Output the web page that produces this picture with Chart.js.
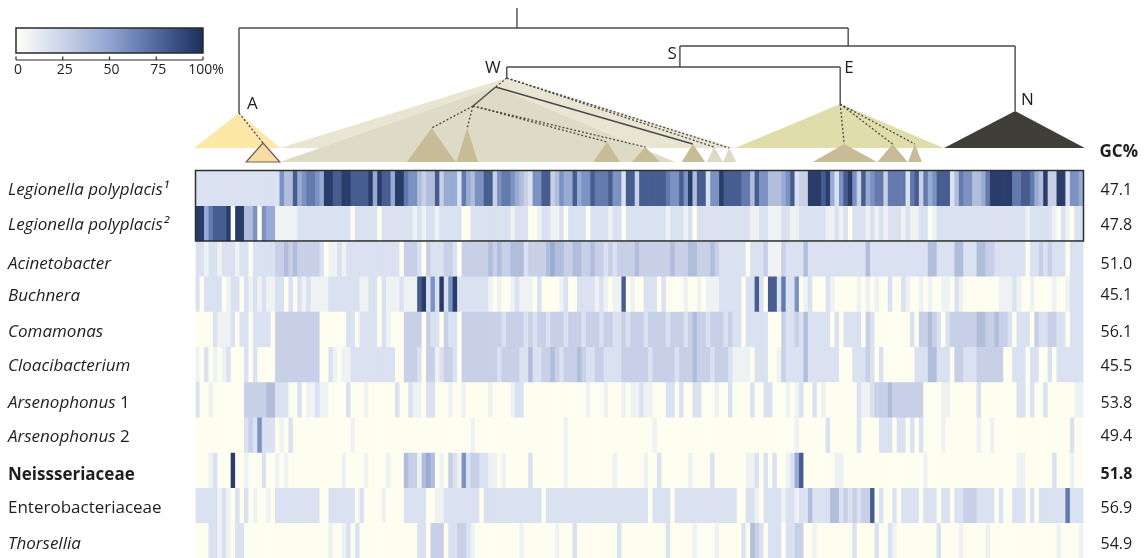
<!DOCTYPE html>
<html>
<head>
<meta charset="utf-8">
<script src="https://cdn.jsdelivr.net/npm/chart.js@4.4.1/dist/chart.umd.min.js"></script>
<style>
html, body { margin: 0; padding: 0; background: #fff; }
#wrap { width: 1148px; height: 558px; }
</style>
</head>
<body>
<div id="wrap"><canvas id="myChart" width="1148" height="558"></canvas></div>
<script>
// ---- data ----
function z(n) { return '0'.repeat(n); }   // run of empty (0%) columns

var taxa = ['Legionella polyplacis¹', 'Legionella polyplacis²', 'Acinetobacter', 'Buchnera',
    'Comamonas', 'Cloacibacterium', 'Arsenophonus 1', 'Arsenophonus 2',
    'Neissseriaceae', 'Enterobacteriaceae', 'Thorsellia'];
var gcContent = ['47.1', '47.8', '51.0', '45.1', '56.1', '45.5', '53.8', '49.4', '51.8', '56.9', '54.9'];

// coverage per gene column, one digit per column (0 = 0% ... 9 = 100%)
var legionella1 = ["2222222222222222222", "64485677659988",
    "99888", "89598", "85997", "66434", "48355", "52754", "668",
    "83677", "65432", "66883", "46558", "56687", "77866", "28",
    "83888", "88876", "68694", "88266", "98888", "77486", "644",
    "45682", "33999", "89526", "89638", "56773", "77772", "78",
    "37568", "88247", "66445", "79999", "97788", "75493", "39926", "65"].join('');
var legionella2 = ["99578", "88909", "94460", "65511", "11122", "22222", "222",
    "22022", "22202", "22222", "21212", "21222", "22002", "222",
    "22222", "12220", "01221", "12022", "22022", "22122", "02",
    "22222222", "1", "222", "1", "2", "0", "222222222222", "11", "22", "11",
    "12211", "22222", "21121", "20222", "12121", "22212", "11",
    "22012", "2222222222222222222", "1", "22222", "1", "0", "2", "1", "0", "22"].join('');
var acinetobacter = ["22122", "12221", "22022", "22233", "43433", "33320", "112",
    "1", "222222222222", "0", "333", "2", "0", "3", "222", "33", "2", "0", "333333",
    "43433", "44423", "33345", "44334", "43343", "32323", "33",
    "34333", "33334", "33344", "33343", "22222", "20222", "311",
    "13222", "24", "2222222222222", "4", "22222222222",
    "22442", "22244", "22244", "33222", "22220", "22323", "22202", "22"].join('');
var buchnera = ["20222", "20122", "02121", "21122", "02021", "21111", "222",
    "22221", "12202", "11121", "11892", "62926", "92222", "222",
    "10100", "12111", "02000", "01200", "22221", "21011", "80",
    "10022", "20200", "00100", "10111", "22222", "02282", "088",
    "27226", "01200", "02100", "00010", "10100", "20021", "00",
    "10100", "11021", "00000", "00011", "12100", "10000", "10012", "22"].join('');
var comamonas = ["00002", "11120", "22022", "22033", "33333", "33300", "000",
    "02202", "22202", "10003", "33303", "22032", "20333", "333",
    "33323", "33323", "23323", "33233", "32333", "23322", "32",
    "33323333233323", "4", "332333232", "202222200",
    "03223", "24222", "22020", "22220", "32000", "00000", "20",
    "33432", "02333", "33344", "33433", "20222", "03223", "32202", "22"].join('');
var cloacibacterium = ["10201", "01200", "02020", "00033", "33333", "33300", "210",
    "11", "2222222222", "00", "333", "2", "0", "33", "1", "2", "33", "2", "0", "333333",
    "33233", "33224", "22334", "32333", "43223", "32222", "33",
    "33332333332333", "4", "3332333", "21111022200",
    "13222", "24", "2222222", "000", "222", "3", "2", "0", "2", z(7), "2",
    "22442", "22033", "22233", "33330", "02220", "22002", "02222", "22"].join('');
var arsenophonus1 = ["20010", z(6), "33333", "44", "222", "00", "2", "0", "11", "2", "11", "000",
    "02000", "10000", "00200", "21102", "20001", "00100", "000",
    "10000", "12200", z(12), "10001", "00010",
    "11211", "00022", "02002", "20001", "00200", "00200", "220",
    "00101", "20020", "1", z(7), "21123", "334", "3", "33333",
    "3", "0000", "11", z(6), "2", z(8), "22", "0", "2", "00", "2", z(6), "11"].join('');
var arsenophonus2 = [z(11), "23262220102", z(11),
    "001", z(26), "1", "000",
    z(17), "1", z(14),
    z(5), "1", z(27),
    "0000", "1", z(6), "2", z(6), "2", "0000", "222", "0", "22", "0", "2", "0",
    "2", "0000", "1", z(7), "1", "00", "1", z(17), "2", "00"].join('');
var neisseriaceae = ["00012", "00090", "01000", "20010", "10000", "00000", "000",
    "10000", "10000", "10004", "33145", "40103", "21623", "322",
    "11010", "00002", z(7), "1", z(10), "1", "000",
    "000", "1", "00", "2", z(6), "1", "0000", "2", z(7), "1", "1", "2", "0", "2", "0", "2",
    "00", "1", "2", "5", "8", z(7), "11", z(17),
    "0", "1", z(20), "11", z(6), "2", "000", "1", "00"].join('');
var enterobacteriaceae = ["22222", "12102", "02010", "010", "2222222222", "00222",
    "22202", "00001", "0000", "22222", "0011", "22222222", "02",
    "222222222222", "0", "2222222222222222222",
    "2222", "0", "2222", "0", "22222222222222", "00", "22", "1", "0", "222",
    "21221", "22422", "22442", "32323", "38020", "02022", "22",
    "02220", "22022", "33322", "22020", "02220", "20222", "22272", "22"].join('');
var thorsellia = ["00022", "12102", "20000", z(15), "100",
    "1202", z(13), "22", "0", "333", "0", "22", "33", "21", "000",
    z(7), "1", z(7), "1", "000", "2", z(9), "2", "00",
    z(8), "2", z(5), "1", "0000", "1", z(5), "2", "0", "4", "3", "2", "0", "2", "2",
    "202233", "001", z(8), "2", "0000", "2", "00", "21", z(5),
    "0000", "2", "0000", "1", z(5), "1", z(15), "1", "0000", "1"].join('');

var coverageRows = [legionella1, legionella2, acinetobacter, buchnera, comamonas, cloacibacterium,
    arsenophonus1, arsenophonus2, neisseriaceae, enterobacteriaceae, thorsellia];
var nCols = 200;
var geneLabels = [];
for (var i = 0; i < nCols; i++) geneLabels.push('g' + (i + 1));

// percent for each coverage digit
var levelPercent = [0, 8, 17, 27, 37, 47, 58, 68, 80, 94];
var legendTicks = [0, 25, 50, 75, 100];

// clades: column span of the base, apex column, apex height above the base line
var clades = [
    {name: 'W', from: 19, to: 121.5, apex: 70.1, h: 70, color: '#e8e6d2'},
    {name: 'A', from: -0.3, to: 19, apex: 9.8, h: 35, color: '#fde8a8'},
    {name: 'E', from: 121.5, to: 168.5, apex: 145.2, h: 44, color: '#e1ddab'},
    {name: 'N', from: 168.6, to: 200.3, apex: 184.6, h: 37, color: '#403f37'}
];
var subclades = [
    {from: 11.4, to: 19, apex: 15.2, h: 5, color: '#f7dca6', outline: true},
    {from: 47.6, to: 58.6, apex: 53.2, h: 20, color: '#c8bc97'},
    {from: 58.8, to: 63.6, apex: 61.2, h: 20, color: '#c8bc97'},
    {from: 89.6, to: 95.6, apex: 92.7, h: 6, color: '#c8bc97'},
    {from: 98.3, to: 104.6, apex: 101.3, h: 1, color: '#c8bc97'},
    {from: 109.5, to: 114.8, apex: 112, h: 4, color: '#c8bc97'},
    {from: 115.2, to: 118.8, apex: 116.8, h: 1, color: '#dcd9c6'},
    {from: 118.8, to: 121.8, apex: 120.2, h: 0, color: '#dcd9c6'},
    {from: 139, to: 153.5, apex: 146.1, h: 4, color: '#c8bc97'},
    {from: 153.6, to: 160.4, apex: 157, h: 4, color: '#c8bc97'},
    {from: 160.5, to: 163.6, apex: 162, h: 4, color: '#c8bc97'}
];
// tree branches as [column, height] points
var treeLines = [
    [[72.4, 140], [72.4, 120]],
    [[9.8, 120], [147, 120]], [[9.8, 120], [9.8, 35]], [[147, 120], [147, 102]],
    [[109.1, 102], [184.6, 102]], [[109.1, 102], [109.1, 81]], [[184.6, 102], [184.6, 37]],
    [[70.1, 81], [145.2, 81]], [[70.1, 81], [70.1, 70]], [[145.2, 81], [145.2, 44]],
    [[67.6, 61], [112, 4]], [[67.6, 61], [62.5, 42]]
];
var treeDotted = [
    [[9.8, 35], [15.2, 5]],
    [[70.1, 70], [67.6, 61]], [[70.1, 70], [120.2, 0]], [[70.1, 70], [116.8, 1]],
    [[62.5, 42], [53.2, 20]], [[62.5, 42], [61.2, 20]], [[62.5, 42], [92.7, 6]], [[62.5, 42], [101.3, 1]],
    [[145.2, 44], [146.1, 4]], [[145.2, 44], [157, 4]], [[145.2, 44], [162, 4]]
];
var nodeLabels = [
    {text: 'A', x: 9.8, h: 44, dx: 8, align: 'left'},
    {text: 'W', x: 70.1, h: 80, dx: -6, align: 'right'},
    {text: 'S', x: 109.1, h: 94, dx: -3, align: 'right'},
    {text: 'E', x: 145.2, h: 80, dx: 4, align: 'left'},
    {text: 'N', x: 184.6, h: 48, dx: 6, align: 'left'}
];

// ---- colour scale ----
var colorStops = [[0, '#fefef0'], [8, '#eff2f3'], [17, '#dae1f1'], [27, '#c7d0e6'], [37, '#b1bedb'],
    [50, '#91a5d1'], [62, '#7288ba'], [75, '#54699b'], [88, '#354a7c'], [100, '#1f2d58']];
function hexRgb(h) { return [parseInt(h.substr(1, 2), 16), parseInt(h.substr(3, 2), 16), parseInt(h.substr(5, 2), 16)]; }
function coverageColor(p) {
    for (var i = 1; i < colorStops.length; i++) {
        if (p <= colorStops[i][0]) {
            var a = colorStops[i - 1], b = colorStops[i];
            var t = (p - a[0]) / (b[0] - a[0]);
            var ca = hexRgb(a[1]), cb = hexRgb(b[1]);
            return 'rgb(' + ca.map(function (v, k) { return Math.round(v + (cb[k] - v) * t); }).join(',') + ')';
        }
    }
    return colorStops[colorStops.length - 1][1];
}

var datasets = coverageRows.map(function (row, r) {
    var vals = [], cols = [];
    for (var c = 0; c < nCols; c++) {
        var lvl = parseInt(row.charAt(c) || '0', 10);
        vals.push([r, r + 1]);
        cols.push(coverageColor(levelPercent[lvl]));
    }
    return {label: taxa[r], data: vals, backgroundColor: cols, borderWidth: 0};
});

var FONT = '"Open Sans", "DejaVu Sans", sans-serif';
var labelShift = [2, 2, 6, 2, 3, 2, 4, 2, 5, 3, 4];

var decorPlugin = {
    id: 'decor',
    beforeDraw: function (chart) {
        var ctx = chart.ctx;
        ctx.save();
        ctx.fillStyle = '#fff';
        ctx.fillRect(0, 0, chart.width, chart.height);
        ctx.restore();
    },
    afterDraw: function (chart) {
        var ctx = chart.ctx, xs = chart.scales.x, ys = chart.scales.y, area = chart.chartArea;
        function colX(c) { return xs.getPixelForValue(c - 0.5); }
        function hY(h) { return area.top - 22.5 - h; }
        ctx.save();

        // Legionella box
        ctx.strokeStyle = '#2e2e2e';
        ctx.lineWidth = 1.5;
        ctx.strokeRect(colX(0), ys.getPixelForValue(0), colX(nCols) - colX(0), ys.getPixelForValue(2) - ys.getPixelForValue(0));

        // clade triangles
        clades.forEach(function (cl) {
            ctx.fillStyle = cl.color;
            ctx.beginPath();
            ctx.moveTo(colX(cl.from), hY(0));
            ctx.lineTo(colX(cl.apex), hY(cl.h));
            ctx.lineTo(colX(cl.to), hY(0));
            ctx.closePath();
            ctx.fill();
            if (cl.name === 'W') {
                ctx.fillStyle = '#dddac5';
                ctx.beginPath();
                ctx.moveTo(colX(19), hY(-14));
                ctx.lineTo(colX(67.6), hY(61));
                ctx.lineTo(colX(108), hY(-14));
                ctx.closePath();
                ctx.fill();
            }
        });
        subclades.forEach(function (s) {
            ctx.fillStyle = s.color;
            ctx.beginPath();
            ctx.moveTo(colX(s.from), hY(-14));
            ctx.lineTo(colX(s.apex), hY(s.h));
            ctx.lineTo(colX(s.to), hY(-14));
            ctx.closePath();
            ctx.fill();
            if (s.outline) {
                ctx.strokeStyle = '#6b6256';
                ctx.lineWidth = 1.2;
                ctx.stroke();
            }
        });

        // branches
        ctx.strokeStyle = '#4a4a4a';
        ctx.lineWidth = 1.4;
        treeLines.forEach(function (l) {
            ctx.beginPath();
            ctx.moveTo(colX(l[0][0]), hY(l[0][1]));
            ctx.lineTo(colX(l[1][0]), hY(l[1][1]));
            ctx.stroke();
        });
        ctx.setLineDash([2, 2]);
        ctx.lineWidth = 1.3;
        treeDotted.forEach(function (l) {
            ctx.beginPath();
            ctx.moveTo(colX(l[0][0]), hY(l[0][1]));
            ctx.lineTo(colX(l[1][0]), hY(l[1][1]));
            ctx.stroke();
        });
        ctx.setLineDash([]);

        ctx.fillStyle = '#1e1e1e';
        ctx.font = '17px ' + FONT;
        ctx.textBaseline = 'middle';
        nodeLabels.forEach(function (n) {
            ctx.textAlign = n.align;
            ctx.fillText(n.text, colX(n.x) + n.dx, hY(n.h));
        });

        // row labels
        ctx.textAlign = 'left';
        taxa.forEach(function (name, r) {
            var y = (ys.getPixelForValue(r) + ys.getPixelForValue(r + 1)) / 2 + labelShift[r];
            var x = 8;
            var parts;
            if (r === 8) parts = [[name, 'bold ']];
            else if (r === 9) parts = [[name, '']];
            else if (r === 6 || r === 7) parts = [[name.split(' ')[0], 'italic '], [' ' + name.split(' ')[1], '']];
            else parts = [[name, 'italic ']];
            parts.forEach(function (p) {
                ctx.font = p[1] + '17px ' + FONT;
                ctx.fillText(p[0], x, y);
                x += ctx.measureText(p[0]).width;
            });
            ctx.font = (r === 8 ? 'bold ' : '') + '16px ' + FONT;
            ctx.fillText(gcContent[r], area.right + 17, y);
        });
        ctx.font = 'bold 17px ' + FONT;
        ctx.fillText('GC%', area.right + 16, hY(-4));

        // colour key
        var kx0 = 16, kx1 = 203, ky0 = 28, ky1 = 53;
        var g = ctx.createLinearGradient(kx0, 0, kx1, 0);
        colorStops.forEach(function (s) { g.addColorStop(s[0] / 100, s[1]); });
        ctx.fillStyle = g;
        ctx.fillRect(kx0, ky0, kx1 - kx0, ky1 - ky0);
        ctx.strokeStyle = '#2a2a2a';
        ctx.lineWidth = 1.5;
        ctx.strokeRect(kx0, ky0, kx1 - kx0, ky1 - ky0);
        ctx.lineWidth = 1.2;
        ctx.beginPath();
        ctx.moveTo(kx0, 60);
        ctx.lineTo(kx1, 60);
        legendTicks.forEach(function (t) {
            var tx = kx0 + (kx1 - kx0) * t / 100;
            ctx.moveTo(tx, 60);
            ctx.lineTo(tx, 56.5);
        });
        ctx.stroke();
        ctx.fillStyle = '#1e1e1e';
        ctx.font = '14px ' + FONT;
        ctx.textAlign = 'center';
        legendTicks.forEach(function (t) {
            var tx = kx0 + (kx1 - kx0) * t / 100;
            var txt = t === 100 ? t + '%' : String(t);
            ctx.fillText(txt, t === 100 ? tx + 3 : tx + 2, 70);
        });
        ctx.restore();
    }
};

var canvas = document.getElementById('myChart');
var myChart = new Chart(canvas.getContext('2d'), {
    type: 'bar',
    data: {labels: geneLabels, datasets: datasets},
    options: {
        responsive: false,
        animation: false,
        layout: {padding: {left: 195.5, right: 64.5, top: 170.5, bottom: 0}},
        plugins: {legend: {display: false}, tooltip: {enabled: false}},
        datasets: {bar: {grouped: false, barPercentage: 1, categoryPercentage: 1}},
        scales: {
            x: {display: false, grid: {display: false}},
            y: {display: false, min: 0, max: coverageRows.length, reverse: true, grid: {display: false}}
        }
    },
    plugins: [decorPlugin]
});
</script>
</body>
</html>
